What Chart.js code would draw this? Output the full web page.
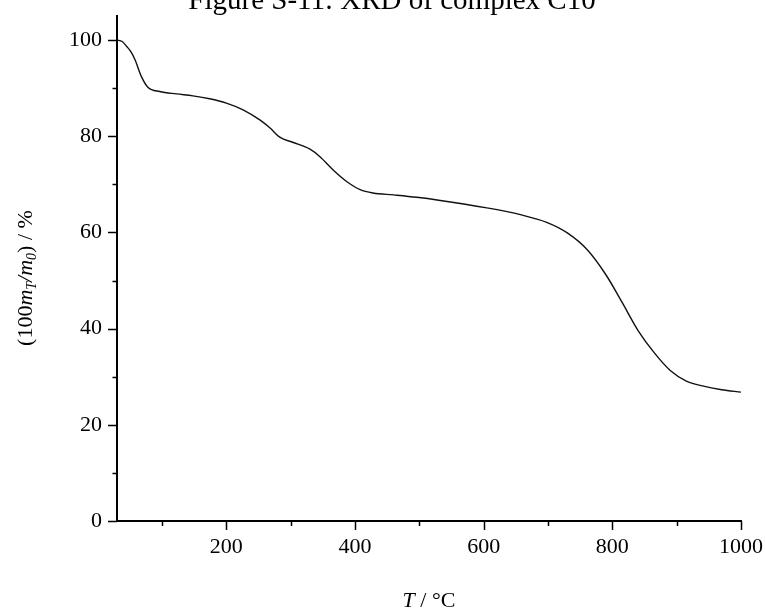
<!DOCTYPE html>
<html>
<head>
<meta charset="utf-8">
<style>
  html, body { margin: 0; padding: 0; background: #fff; overflow: hidden; }
  #wrap { position: relative; width: 765px; height: 613px; overflow: hidden; }
  #c { position: absolute; left: 0; top: -20px; }
</style>
<script src="https://cdn.jsdelivr.net/npm/chart.js@4/dist/chart.umd.min.js"></script>
</head>
<body>
<div id="wrap"><canvas id="c" width="765" height="633"></canvas></div>
<script>
// ---- data ----
const temperature = [30, 38, 45.5, 52, 58, 68, 78, 96.5, 122.5, 148, 174, 200, 226, 252, 268, 283,
  304, 330, 345, 366, 387, 408, 428, 460, 496, 530, 605, 657, 698, 730, 761, 790, 815, 840,
  865, 890, 915, 940, 970, 1000];
const massPercent = [100, 99.7, 98.6, 97.5, 95.9, 92.4, 90.2, 89.3, 88.8, 88.4, 87.8, 86.9, 85.5, 83.4, 81.7, 79.8,
  78.7, 77.3, 75.8, 73.0, 70.6, 68.9, 68.2, 67.8, 67.3, 66.7, 65.1, 63.7, 62.1, 59.9, 56.4, 51.2, 45.5, 39.6,
  35.0, 31.3, 29.1, 28.1, 27.3, 26.8];
const xTickValues = [100, 200, 300, 400, 500, 600, 700, 800, 900, 1000];
const xLabelValues = [200, 400, 600, 800, 1000];
const yTickValues = [0, 10, 20, 30, 40, 50, 60, 70, 80, 90, 100];
const yLabelValues = [0, 20, 40, 60, 80, 100];
const titleText = 'Figure S-11: XRD of complex C10';

const FONT = "'Liberation Serif', 'Times New Roman', serif";
const OFF = 20; // canvas is shifted up by this many pixels so the title is clipped at the top

const points = temperature.map((t, i) => ({ x: t, y: massPercent[i] }));

const ticksAndTitles = {
  id: 'ticksAndTitles',
  afterDraw(chart) {
    const ctx = chart.ctx;
    const xs = chart.scales.x, ys = chart.scales.y;
    const area = chart.chartArea;
    ctx.save();
    ctx.strokeStyle = '#000';
    ctx.lineWidth = 1.5;
    ctx.beginPath();
    yTickValues.forEach(v => {
      const p = Math.round(ys.getPixelForValue(v)) + 0.5;
      const len = yLabelValues.includes(v) ? 9 : 4.5;
      ctx.moveTo(area.left, p);
      ctx.lineTo(area.left - len, p);
    });
    xTickValues.forEach(v => {
      const p = Math.round(xs.getPixelForValue(v)) + 0.5;
      const len = xLabelValues.includes(v) ? 9 : 5;
      ctx.moveTo(p, area.bottom);
      ctx.lineTo(p, area.bottom + len);
    });
    ctx.stroke();

    ctx.fillStyle = '#000';
    ctx.textBaseline = 'alphabetic';
    // x axis title:  T / °C
    const segX = [
      { t: 'T', f: 'italic 22px ' + FONT, dy: 0 },
      { t: ' / °C', f: '22px ' + FONT, dy: 0 }
    ];
    drawSegments(ctx, segX, (area.left + area.right) / 2, 607 + OFF, 0);

    // y axis title: (100 m_T / m_0) / %
    const segY = [
      { t: '(100', f: '22px ' + FONT, dy: 0 },
      { t: 'm', f: 'italic 22px ' + FONT, dy: 0 },
      { t: 'T', f: 'italic 14px ' + FONT, dy: 4 },
      { t: '/', f: 'italic 22px ' + FONT, dy: 0 },
      { t: 'm', f: 'italic 22px ' + FONT, dy: 0 },
      { t: '0', f: 'italic 14px ' + FONT, dy: 4 },
      { t: ') / %', f: '22px ' + FONT, dy: 0 }
    ];
    drawSegments(ctx, segY, 31.5, 278 + OFF, -Math.PI / 2);
    ctx.restore();
  }
};

function drawSegments(ctx, segs, cx, cy, rot) {
  let total = 0;
  segs.forEach(s => { ctx.font = s.f; s.w = ctx.measureText(s.t).width; total += s.w; });
  ctx.save();
  ctx.translate(cx, cy);
  ctx.rotate(rot);
  let x = -total / 2;
  segs.forEach(s => {
    ctx.font = s.f;
    ctx.fillText(s.t, x, s.dy);
    x += s.w;
  });
  ctx.restore();
}

new Chart(document.getElementById('c'), {
  type: 'line',
  data: {
    datasets: [{
      label: 'TGA',
      data: points,
      borderColor: '#111',
      borderWidth: 1.4,
      pointRadius: 0,
      fill: false,
      cubicInterpolationMode: 'monotone'
    }]
  },
  options: {
    responsive: false,
    animation: false,
    events: [],
    layout: { padding: { left: 43, right: 24, top: 0, bottom: 0 } },
    plugins: {
      legend: { display: false },
      tooltip: { enabled: false },
      title: {
        display: true,
        text: titleText,
        color: '#000',
        font: { family: FONT, size: 29, weight: 'normal', lineHeight: 1 },
        padding: { top: 7, bottom: 0 }
      }
    },
    scales: {
      x: {
        type: 'linear',
        min: 30,
        max: 1000,
        afterBuildTicks: s => { s.ticks = xTickValues.map(v => ({ value: v })); },
        afterFit: s => { s.height = 92; s.paddingRight = 0; s.paddingLeft = 0; },
        grid: { display: false, drawTicks: false },
        border: { display: true, color: '#000', width: 2 },
        ticks: {
          autoSkip: false, maxRotation: 0, padding: 13, color: '#000',
          font: { family: FONT, size: 22 },
          callback: v => xLabelValues.includes(v) ? String(v) : ''
        }
      },
      y: {
        type: 'linear',
        min: 0,
        max: 105,
        afterBuildTicks: s => { s.ticks = yTickValues.map(v => ({ value: v })); },
        afterFit: s => { s.width = 74; s.paddingTop = 0; s.paddingBottom = 0; },
        grid: { display: false, drawTicks: false },
        border: { display: true, color: '#000', width: 2 },
        ticks: {
          autoSkip: false, padding: 15, color: '#000',
          font: { family: FONT, size: 22 },
          callback: v => yLabelValues.includes(v) ? String(v) : ''
        }
      }
    }
  },
  plugins: [ticksAndTitles]
});
</script>
</body>
</html>
